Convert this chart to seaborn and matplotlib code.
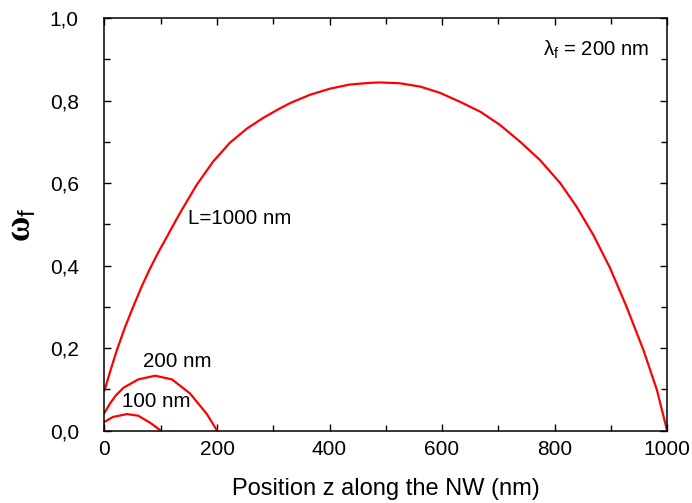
import numpy as np
import pandas as pd
import matplotlib
matplotlib.use("Agg")
import matplotlib.pyplot as plt
from matplotlib.ticker import MultipleLocator, FixedLocator, FixedFormatter
import seaborn as sns

# ---- data ----
z_1000 = [0, 10, 22, 36, 51, 66, 81, 96, 111, 125, 137, 164, 193, 223, 253,
          282, 309, 330, 365, 401, 436, 472, 490, 525, 561, 596, 632, 668, 703,
          739, 774, 810, 839, 869, 899, 928, 958, 982, 1000]
w_1000 = [0.097, 0.143, 0.195, 0.249, 0.300, 0.349, 0.393, 0.433, 0.470, 0.505,
          0.534, 0.596, 0.652, 0.698, 0.732, 0.758, 0.779, 0.794, 0.814,
          0.829, 0.839, 0.843, 0.844, 0.842, 0.834, 0.819, 0.797, 0.773, 0.741,
          0.700, 0.656, 0.600, 0.543, 0.474, 0.393, 0.300, 0.195, 0.098, 0.0]
z_200 = [0, 10, 20, 34, 60, 90, 120, 152, 182, 200]
w_200 = [0.043, 0.066, 0.085, 0.104, 0.124, 0.133, 0.124, 0.090, 0.040, 0.0]
z_100 = [0, 15, 40, 60, 81, 100]
w_100 = [0.021, 0.033, 0.040, 0.036, 0.019, 0.0]

x_ticks = [0, 200, 400, 600, 800, 1000]
x_labels = ["0", "200", "400", "600", "800", "1000"]
y_ticks = [0.0, 0.2, 0.4, 0.6, 0.8, 1.0]
y_labels = ["0,0", "0,2", "0,4", "0,6", "0,8", "1,0"]

labels = ["L=1000 nm", "200 nm", "100 nm"]

sns.set_theme(style="white")
plt.rcParams["font.family"] = ["Liberation Sans", "DejaVu Sans"]
plt.rcParams["mathtext.fontset"] = "custom"
plt.rcParams["mathtext.rm"] = "Liberation Sans"
plt.rcParams["mathtext.it"] = "Liberation Sans"

frames = []
for name, zz, ww in [("1000", z_1000, w_1000), ("200", z_200, w_200), ("100", z_100, w_100)]:
    frames.append(pd.DataFrame({"z": zz, "w": ww, "L": name}))
df = pd.concat(frames, ignore_index=True)

fig = plt.figure(figsize=(6.92, 5.03), dpi=100)
ax = fig.add_axes([0.151, 0.144, 0.813, 0.820])

sns.lineplot(data=df, x="z", y="w", units="L", estimator=None, sort=False,
             color="#ff0000", linewidth=1.6, ax=ax, legend=False)

ax.set_xlim(0, 1000)
ax.set_ylim(0, 1.0)
ax.xaxis.set_major_locator(FixedLocator(x_ticks))
ax.xaxis.set_major_formatter(FixedFormatter(x_labels))
ax.xaxis.set_minor_locator(MultipleLocator(100))
ax.yaxis.set_major_locator(FixedLocator(y_ticks))
ax.yaxis.set_major_formatter(FixedFormatter(y_labels))
ax.yaxis.set_minor_locator(MultipleLocator(0.1))

ax.tick_params(which="both", direction="in", top=True, right=True,
               bottom=True, left=True, color="black", width=1.0,
               labelsize=15, labelcolor="black")
ax.tick_params(which="major", length=5)
ax.tick_params(which="minor", length=4)
ax.tick_params(axis="x", which="both", pad=6.5)
ax.tick_params(axis="y", which="both", pad=18.5)
for s in ax.spines.values():
    s.set_color("black")
    s.set_linewidth(1.1)

ax.set_xlabel("Position z along the NW (nm)", fontsize=17, color="black", labelpad=14)
ax.set_ylabel(r"ω$_{\mathrm{f}}$", fontsize=25, color="black", labelpad=8,
              family=["Liberation Serif", "DejaVu Serif"], fontweight="bold")

ax.text(148, 0.515, labels[0], fontsize=14.8, va="center", ha="left", color="black")
ax.text(68, 0.167, labels[1], fontsize=14.8, va="center", ha="left", color="black")
ax.text(32, 0.07, labels[2], fontsize=14.8, va="center", ha="left", color="black")
ax.text(780, 0.922, r"λ$_{\mathrm{f}}$ = 200 nm", fontsize=14.6, va="center", ha="left", color="black")

fig.savefig("out.png", dpi=100, facecolor="white")
